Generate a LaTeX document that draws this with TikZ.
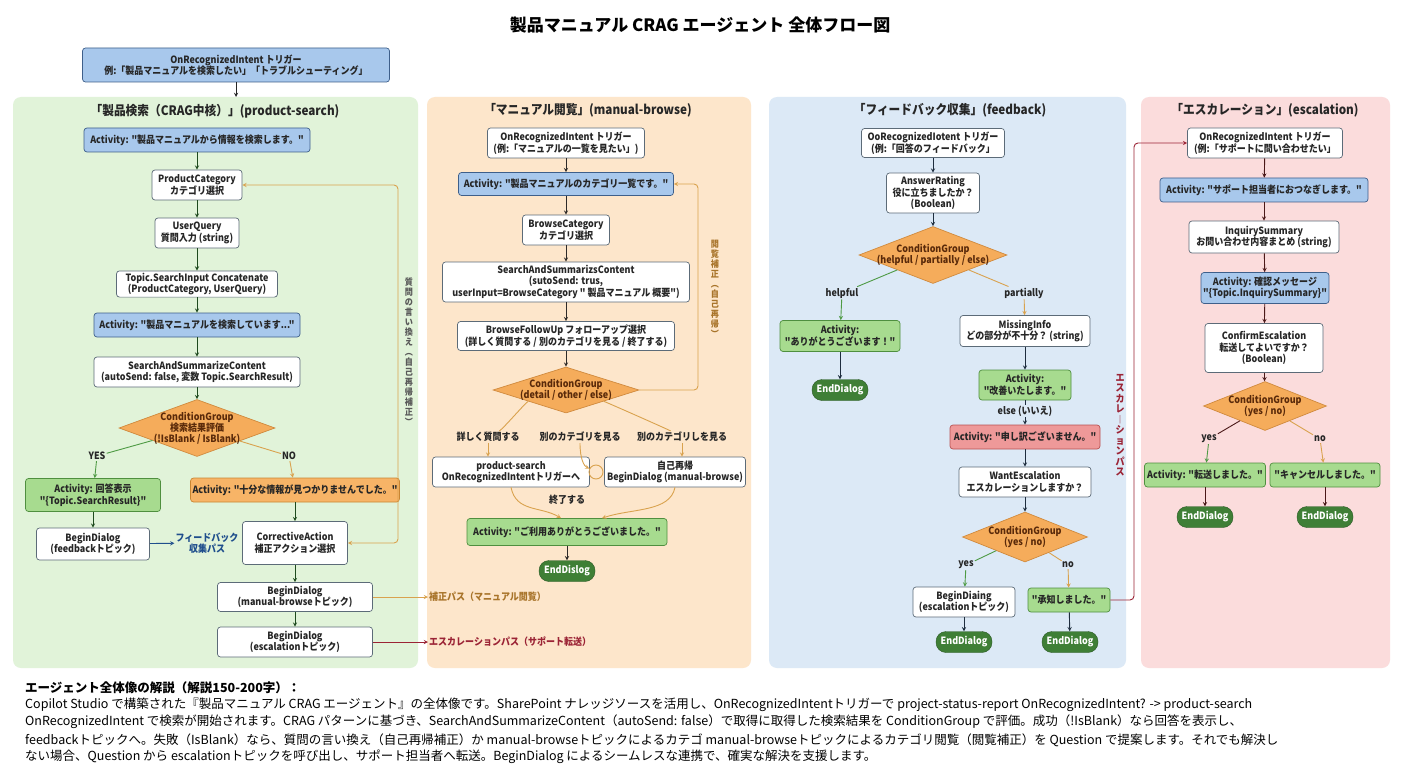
\documentclass[tikz,border=0pt]{standalone}
\usepackage{fontspec}
\setmainfont{Noto Sans CJK JP}
\newfontfamily\nodefont{Noto Sans CJK JP}[FakeStretch=0.9]
\usetikzlibrary{shapes.geometric}

\definecolor{pgreen}{HTML}{E1F3D9}
\definecolor{porange}{HTML}{FDE6CB}
\definecolor{pblue}{HTML}{DCE9F6}
\definecolor{ppink}{HTML}{FBDCDC}
\definecolor{actblue}{HTML}{A8C8EC}
\definecolor{actblueline}{HTML}{3E5F8A}
\definecolor{actgreen}{HTML}{A7DB8F}
\definecolor{actgreenline}{HTML}{4F8F3F}
\definecolor{actorange}{HTML}{F7B467}
\definecolor{actorangeline}{HTML}{C98532}
\definecolor{actred}{HTML}{EE9999}
\definecolor{actredline}{HTML}{B85252}
\definecolor{condfill}{HTML}{F5AC5B}
\definecolor{condline}{HTML}{D08A3E}
\definecolor{condtext}{HTML}{5A2A0A}
\definecolor{endfill}{HTML}{3F7F36}
\definecolor{boxline}{HTML}{5C6B78}
\definecolor{ardgreen}{HTML}{1E4A1E}
\definecolor{ardbrown}{HTML}{2E2A28}
\definecolor{ardnavy}{HTML}{1E2D3E}
\definecolor{ardred}{HTML}{4A1818}
\definecolor{tanline}{HTML}{D9A24E}
\definecolor{tantext}{HTML}{A8742A}
\definecolor{esc}{HTML}{9B2335}
\definecolor{fbblue}{HTML}{1F4E8C}
\definecolor{lgreen}{HTML}{4E9A44}

\begin{document}
\begin{tikzpicture}[x=1pt, y=-1pt, >=stealth,
  box/.style={draw=boxline, fill=white, rounded corners=3pt, align=center, inner sep=2pt,
    line width=.7pt, text=black!85, font=\nodefont\bfseries\fontsize{10}{11.5}\selectfont},
  bluebox/.style={box, fill=actblue, draw=actblueline},
  greenbox/.style={box, fill=actgreen, draw=actgreenline},
  orangebox/.style={box, fill=actorange, draw=actorangeline},
  redbox/.style={box, fill=actred, draw=actredline},
  cond/.style={diamond, draw=condline, fill=condfill, inner sep=0pt, line width=.7pt},
  condtxt/.style={align=center, text=condtext, font=\nodefont\bfseries\fontsize{10}{11}\selectfont},
  enddlg/.style={draw=endfill!70!black, fill=endfill, text=white, rounded corners=10pt,
    minimum width=56, minimum height=21, inner sep=2pt, font=\nodefont\bfseries\fontsize{10}{11}\selectfont},
  ptitle/.style={font=\nodefont\bfseries\fontsize{13}{15}\selectfont, text=black!85},
  blab/.style={inner sep=1pt, text=black!85, font=\nodefont\bfseries\fontsize{10}{11}\selectfont},
  vlab/.style={align=center, inner sep=0pt, font=\nodefont\bfseries\fontsize{9}{10}\selectfont},
  para/.style={anchor=west, inner sep=0pt, text=black, font=\fontsize{12.5}{14}\selectfont},
  flow/.style={->, line width=.9pt}]

\useasboundingbox[fill=white] (0,0) rectangle (1402,770);

% panels
\fill[pgreen, rounded corners=8] (13,97) rectangle (418,668);
\fill[porange, rounded corners=8] (427,97) rectangle (751,668);
\fill[pblue, rounded corners=8] (769,97) rectangle (1126,668);
\fill[ppink, rounded corners=8] (1141,97) rectangle (1390,668);

\node[font=\bfseries\fontsize{17}{20}\selectfont] (title) at (700,25) {製品マニュアル CRAG エージェント 全体フロー図};

\node[bluebox, minimum width=307, minimum height=34] (trig) at (236,65)
  {OnRecognizedIntent トリガー\\例:「製品マニュアルを検索したい」「トラブルシューティング」};
\coordinate (p1top) at (236,97);
\draw[flow, black!85] (trig) -- (p1top);

% product-search
\node[ptitle] (t1) at (215,111) {「製品検索（CRAG中核）」(product-search)};
\node[bluebox, minimum width=226, minimum height=24] (a1) at (197,140) {Activity: "製品マニュアルから情報を検索します。"};
\node[box, minimum width=90, minimum height=30] (pcat) at (197,185) {ProductCategory\\カテゴリ選択};
\node[box, minimum width=84, minimum height=30] (uq) at (197,233) {UserQuery\\質問入力 (string)};
\node[box, minimum width=161, minimum height=24] (sin) at (197,284) {Topic.SearchInput Concatenate\\(ProductCategory, UserQuery)};
\node[bluebox, minimum width=206, minimum height=24] (a1b) at (197,325) {Activity: "製品マニュアルを検索しています..."};
\node[box, minimum width=206, minimum height=30] (ssc) at (197,372) {SearchAndSummarizeContent\\(autoSend: false, 変数 Topic.SearchResult)};
\node[cond, minimum width=156, minimum height=57,
  label={[condtxt]center:{ConditionGroup\\検索結果評価\\(!IsBlank / IsBlank)}}] (cg1) at (197,428) {};
\node[blab] (lyes) at (97,456) {YES};
\node[blab] (lno) at (289,456) {NO};
\node[greenbox, minimum width=135, minimum height=33] (ans) at (93,495) {Activity: 回答表示\\"\{Topic.SearchResult\}"};
\node[orangebox, minimum width=205, minimum height=24] (nf) at (295,490) {Activity: "十分な情報が見つかりませんでした。"};
\node[box, minimum width=113, minimum height=32] (bdfb) at (93,544) {BeginDialog\\(feedbackトピック)};
\node[align=center, text=fbblue, inner sep=1pt, font=\nodefont\bfseries\fontsize{10}{11.5}\selectfont] (fbpath) at (207,543) {フィードバック\\収集パス};
\node[box, minimum width=105, minimum height=43] (corr) at (295,543) {CorrectiveAction\\補正アクション選択};
\node[box, minimum width=155, minimum height=29] (bdmb) at (295,597) {BeginDialog\\(manual-browseトピック)};
\node[box, minimum width=155, minimum height=30] (bdes) at (295,642) {BeginDialog\\(escalationトピック)};
\node[blab, anchor=west, text=tantext] (fixpath) at (428,597) {補正パス（マニュアル閲覧）};
\node[blab, anchor=west, text=esc] (escpath) at (428,642) {エスカレーションパス（サポート転送）};
\node[vlab, text=black!65] (rephr) at (409,352) {質\\問\\の\\言\\い\\換\\え\\︵\\自\\己\\再\\帰\\補\\正\\︶};

\foreach \a/\b in {a1/pcat, pcat/uq, uq/sin, sin/a1b, a1b/ssc, ssc/cg1, ans/bdfb, nf/corr, corr/bdmb, bdmb/bdes}
  \draw[flow, ardgreen] (\a) -- (\b);
\draw[line width=.9pt, lgreen] (cg1) -- (lyes);
\draw[flow, lgreen] (lyes) -- (ans);
\draw[line width=.9pt, tanline] (cg1) -- (lno);
\draw[flow, tanline] (lno) -- (nf);
\draw[flow, fbblue] (bdfb) -- (fbpath);
\draw[flow, tanline] (bdmb) -- (fixpath);
\draw[flow, esc] (bdes) -- (escpath);
\coordinate (rl1) at (398,360);
\draw[<->, line width=.9pt, tanline, rounded corners=4] (corr.east) -| (rl1) |- (pcat.east);

% manual-browse
\node[ptitle] (t2) at (588,110) {「マニュアル閲覧」(manual-browse)};
\node[box, minimum width=157, minimum height=30] (mtrig) at (566,143) {OnRecognizedIntent トリガー\\(例:「マニュアルの一覧を見たい」)};
\node[bluebox, minimum width=215, minimum height=23] (a2) at (566,184) {Activity: "製品マニュアルのカテゴリ一覧です。"};
\node[box, minimum width=87, minimum height=30] (bcat) at (566,230) {BrowseCategory\\カテゴリ選択};
\node[box, minimum width=247, minimum height=40] (ssc2) at (566,282)
  {SearchAndSummarizsContent\\(sutoSend: trus,\\userInput=BrowseCategory " 製品マニュアル 概要")};
\node[box, minimum width=217, minimum height=29] (bfu) at (566,336) {BrowseFollowUp フォローアップ選択\\(詳しく質問する / 別のカテゴリを見る / 終了する)};
\node[cond, minimum width=146, minimum height=46,
  label={[condtxt]center:{ConditionGroup\\(detail / other / else)}}] (cg2) at (566,390) {};
\node[vlab, text=tantext] (brfix) at (715,289) {閲\\覧\\補\\正\\︵\\自\\己\\再\\帰\\︶};
\node[blab] (ldet) at (488,437) {詳しく質問する};
\node[blab] (loth) at (580,437) {別のカテゴリを見る};
\node[blab] (lslf) at (682,437) {別のカテゴリしを見る};
\node[box, minimum width=157, minimum height=30] (ps) at (511,472) {product-search\\OnRecognizedIntentトリガーへ};
\node[box, minimum width=141, minimum height=30] (self) at (675,472) {自己再帰\\BeginDialog (manual-browse)};
\node[circle, draw=tanline, line width=.9pt, minimum size=14, inner sep=0pt] (oloop) at (596,472) {};
\node[blab] (lend) at (567,500) {終了する};
\node[greenbox, minimum width=200, minimum height=27] (bye) at (567,532) {Activity: "ご利用ありがとうございました。"};
\node[enddlg] (end2) at (567,571) {EndDislog};

\foreach \a/\b in {mtrig/a2, a2/bcat, bcat/ssc2, ssc2/bfu, bfu/cg2, bye/end2}
  \draw[flow, ardbrown] (\a) -- (\b);
\coordinate (rl2) at (698,300);
\draw[flow, tanline, rounded corners=4] (cg2.east) -| (rl2) |- (a2.east);
\draw[line width=.9pt, tanline] (cg2) .. controls +(-40,12) and +(15,-8) .. (ldet);
\draw[flow, tanline] (ldet.south) -- (ldet.south |- ps.north);
\draw[flow, tanline] (loth) .. controls +(0,22) and +(-12,-6) .. (oloop);
\draw[line width=.9pt, tanline] (cg2) .. controls +(40,12) and +(-15,-8) .. (lslf);
\draw[flow, tanline] (lslf.south) -- (lslf.south |- self.north);
\draw[flow, tanline] (ps.south) .. controls +(5,25) and +(-20,-12) .. ([xshift=-6]bye.north);
\draw[flow, tanline] (self.south) .. controls +(-5,25) and +(30,-10) .. ([xshift=35]bye.north);

% feedback
\node[ptitle] (t3) at (950,110) {「フィードバック収集」(feedback)};
\node[box, minimum width=143, minimum height=29] (ftrig) at (933,143) {OoRecognizedIotent トリガー\\(例:「回答のフィードバック」};
\node[box, minimum width=93, minimum height=40] (rate) at (933,193) {AnswerRating\\役に立ちましたか？\\(Boolean)};
\node[cond, minimum width=148, minimum height=57,
  label={[condtxt]center:{ConditionGroup\\(helpful / partially / else)}}] (cg3) at (933,255) {};
\node[blab] (lhelp) at (842,293) {helpful};
\node[blab] (lpart) at (1024,293) {partially};
\node[greenbox, minimum width=120, minimum height=31] (thx) at (840,336) {Activity:\\"ありがとうございます！"};
\node[enddlg] (end3a) at (840,390) {EndDialog};
\node[box, minimum width=130, minimum height=31] (miss) at (1025,331) {MissingInfo\\どの部分が不十分？ (string)};
\node[greenbox, minimum width=92, minimum height=30] (impr) at (1025,385) {Activity:\\"改善いたします。"};
\node[blab] (lelse) at (1025,411) {else (いいえ)};
\node[redbox, minimum width=150, minimum height=24] (sorry) at (1025,437) {Activity: "申し訳ございません。"};
\node[box, minimum width=132, minimum height=30] (want) at (1025,482) {WantEscalation\\エスカレーションしますか？};
\node[cond, minimum width=125, minimum height=50,
  label={[condtxt]center:{ConditionGroup\\(yes / no)}}] (cg4) at (1025,537) {};
\node[blab] (lyes3) at (966,565) {yes};
\node[blab] (lno3) at (1068,565) {no};
\node[box, minimum width=102, minimum height=30] (bdesc) at (964,602) {BeginDiaing\\(escalationトピック)};
\node[greenbox, minimum width=82, minimum height=24] (ack) at (1069,600) {"承知しました。"};
\node[enddlg] (end3b) at (964,642) {EndDialog};
\node[enddlg] (end3c) at (1070,642) {EndDialog};
\node[vlab, text=esc, font=\nodefont\bfseries\fontsize{10}{10.5}\selectfont] (escv) at (1120,425) {エ\\ス\\カ\\レ\\︱\\シ\\ョ\\ン\\パ\\ス};

\foreach \a/\b in {ftrig/rate, rate/cg3, thx/end3a, miss/impr, lelse/sorry, sorry/want, want/cg4, bdesc/end3b, ack/end3c}
  \draw[flow, ardnavy] (\a) -- (\b);
\draw[line width=.9pt, ardnavy] (impr) -- (lelse);
\draw[line width=.9pt, lgreen] (cg3) -- (lhelp);
\draw[flow, lgreen] (lhelp) -- (thx);
\draw[line width=.9pt, tanline] (cg3) -- (lpart);
\draw[flow, tanline] (lpart) -- (miss);
\draw[line width=.9pt, lgreen] (cg4) -- (lyes3);
\draw[flow, lgreen] (lyes3) -- (bdesc);
\draw[line width=.9pt, tanline] (cg4) -- (lno3);
\draw[flow, tanline] (lno3) -- (ack);

% escalation
\node[ptitle] (t4) at (1265,110) {「エスカレーション」(escalation)};
\node[box, minimum width=155, minimum height=30] (etrig) at (1265,143) {OnRecognizedIntent トリガー\\(例:「サポートに問い合わせたい」};
\node[bluebox, minimum width=208, minimum height=24] (a4) at (1264,190) {Activity: "サポート担当者におつなぎします。"};
\node[box, minimum width=150, minimum height=32] (inq) at (1264,237) {InquirySummary\\お問い合わせ内容まとめ (string)};
\node[bluebox, minimum width=121, minimum height=31] (a4b) at (1265,288) {Activity: 確認メッセージ\\"\{Topic.InquirySummary\}"};
\node[box, minimum width=118, minimum height=49] (conf) at (1264,348) {ConfirmEscalation\\転送してよいですか？\\(Boolean)};
\node[cond, minimum width=123, minimum height=49,
  label={[condtxt]center:{ConditionGroup\\(yes / no)}}] (cg5) at (1265,406) {};
\node[blab] (lyes4) at (1209,439) {yes};
\node[blab] (lno4) at (1320,439) {no};
\node[greenbox, minimum width=121, minimum height=24] (sent) at (1205,475) {Activity: "転送しました。"};
\node[greenbox, minimum width=110, minimum height=24] (cncl) at (1325,475) {"キャンセルしました。"};
\node[enddlg] (end4a) at (1205,517) {EndDialog};
\node[enddlg] (end4b) at (1325,517) {EndDialog};

\foreach \a/\b in {etrig/a4, a4/inq, inq/a4b, a4b/conf, conf/cg5, sent/end4a, cncl/end4b}
  \draw[flow, ardred] (\a) -- (\b);
\draw[line width=.9pt, ardred] (cg5) -- (lyes4);
\draw[flow, lgreen] (lyes4) -- (sent);
\draw[line width=.9pt, tanline] (cg5) -- (lno4);
\draw[flow, tanline] (lno4) -- (cncl);

\coordinate (rl3) at (1134,400);
\draw[flow, esc, rounded corners=4] (ack.east) -| (rl3) |- (etrig.west);

% explanation
\node[para, font=\bfseries\fontsize{12.5}{14}\selectfont] (ex0) at (25,688) {エージェント全体像の解説（解説150-200字）：};
\node[para] (ex1) at (25,705) {Copilot Studio で構築された『製品マニュアル CRAG エージェント』の全体像です。SharePoint ナレッジソースを活用し、OnRecognizedIntentトリガーで project-status-report OnRecognizedIntent? -> product-search};
\node[para] (ex2) at (25,722) {OnRecognizedIntent で検索が開始されます。CRAG パターンに基づき、SearchAndSummarizeContent（autoSend: false）で取得に取得した検索結果を ConditionGroup で評価。成功（!IsBlank）なら回答を表示し、};
\node[para] (ex3) at (25,740) {feedbackトピックへ。失敗（IsBlank）なら、質問の言い換え（自己再帰補正）か manual-browseトピックによるカテゴ manual-browseトピックによるカテゴリ閲覧（閲覧補正）を Question で提案します。それでも解決し};
\node[para] (ex4) at (25,757) {ない場合、Question から escalationトピックを呼び出し、サポート担当者へ転送。BeginDialog によるシームレスな連携で、確実な解決を支援します。};

\end{tikzpicture}
\end{document}
